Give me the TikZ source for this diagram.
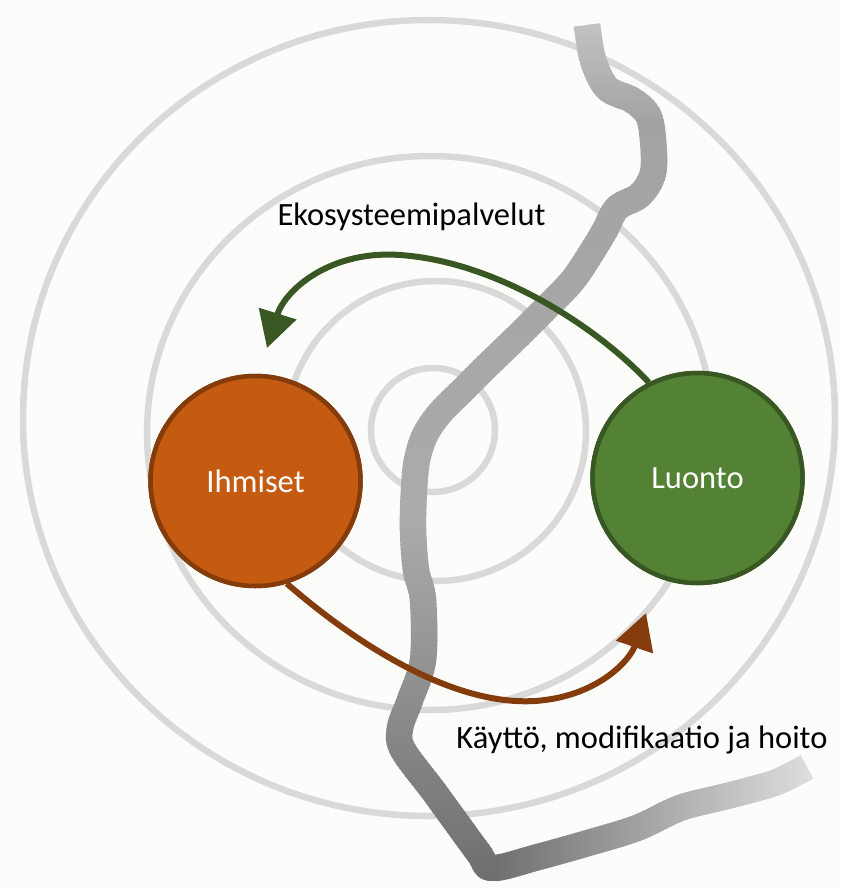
\documentclass[tikz,border=0pt]{standalone}
\usepackage{fontspec}
\setmainfont{Carlito}
\usetikzlibrary{arrows.meta}
\definecolor{bgc}{HTML}{FCFCFB}
\definecolor{ringc}{HTML}{D9D9D9}
\definecolor{ihfill}{HTML}{C55A11}
\definecolor{ihline}{HTML}{843C0C}
\definecolor{lufill}{HTML}{548235}
\definecolor{luline}{HTML}{385723}
\newcommand\riverdraw[1]{\draw[#1, line width=26.5pt, line join=round] plot[smooth, tension=0.55] coordinates {(587,25) (593,60) (607,88) (632,100) (648,115) (653,140) (653,173) (640,195) (617,208) (605,230) (593,250) (573,280) (547,307) (517,337) (490,363) (463,390) (440,413) (425,435) (417,460) (414,490) (413,530) (416,570) (423,600) (423,660) (410,700) (400,728) (403,750) (435,793) (478,852) (492,868) (538,857) (588,843) (637,828) (680,808) (723,797) (750,790) (777,782) (807,767)};}
\begin{document}
\begin{tikzpicture}[x=1pt,y=-1pt,
  ring/.style={draw=ringc, line width=6.5pt},
  actor/.style={circle, minimum size=210pt, inner sep=0pt, line width=4.5pt, text=white, font=\fontsize{32.5}{39}\selectfont},
  lbl/.style={anchor=base, text=black, inner sep=0pt, font=\fontsize{32.5}{39}\selectfont},
  flow/.style={line width=6pt, -{Triangle[length=36pt,width=38pt]}}
]
\useasboundingbox (0,0) rectangle (840,888);
\fill[bgc] (0,0) rectangle (840,888);

% concentric rings
\draw[ring] (433,430) circle[radius=62pt];
\draw[ring] (436,431) circle[radius=150pt];
\draw[ring] (430,433) ellipse[x radius=283pt, y radius=277pt];
\draw[ring] (429,418) ellipse[x radius=406pt, y radius=398pt];

% river: descending part, shaded by height
\foreach \i in {0,...,214} {
  \pgfmathsetmacro\yy{20+4*\i}
  \pgfmathsetmacro\ll{\yy<120 ? 76-(\yy-25)*0.1263 : (\yy<520 ? 64+(\yy-120)*0.0075 : 67-(\yy-520)*0.0657)}
  \pgfmathsetmacro\xr{\yy>735 ? 495 : 840}
  \begin{scope}
    \clip (0,\yy) rectangle (\xr,\yy+4.6);
    \riverdraw{white!\ll!black}
  \end{scope}
}
% river: eastward part, shaded by x
\foreach \j in {0,...,81} {
  \pgfmathsetmacro\xx{495+4*\j}
  \pgfmathsetmacro\ll{min(87,44+(\xx-495)*0.1365)}
  \begin{scope}
    \clip (\xx,736) rectangle (\xx+4.6,888);
    \riverdraw{white!\ll!black}
  \end{scope}
}

% actors
\node[actor, fill=ihfill, draw=ihline] (I) at (255.5,481) {Ihmiset};
\node[actor, fill=lufill, draw=luline] (L) at (697.5,478) {Luonto};

\coordinate (gtip) at (267,348);
\coordinate (btip) at (646,613);

% flows
\draw[flow, luline] (L.117) .. controls (600,330) and (500,262) .. (400,255) .. controls (330,250) and (285,290) .. (gtip);
\draw[flow, ihline] (I.-73) .. controls (375,660) and (470,710) .. (545,700) .. controls (600,693) and (630,660) .. (btip);

% actors drawn again above the arrow ends
\node[actor, fill=ihfill, draw=ihline] at (255.5,481) {Ihmiset};
\node[actor, fill=lufill, draw=luline] at (697.5,478) {Luonto};

% labels
\node[lbl] (eko) at (411.5,225) {Ekosysteemipalvelut};
\node[lbl] (kay) at (642,748) {Käyttö, modifikaatio ja hoito};
\end{tikzpicture}
\end{document}
